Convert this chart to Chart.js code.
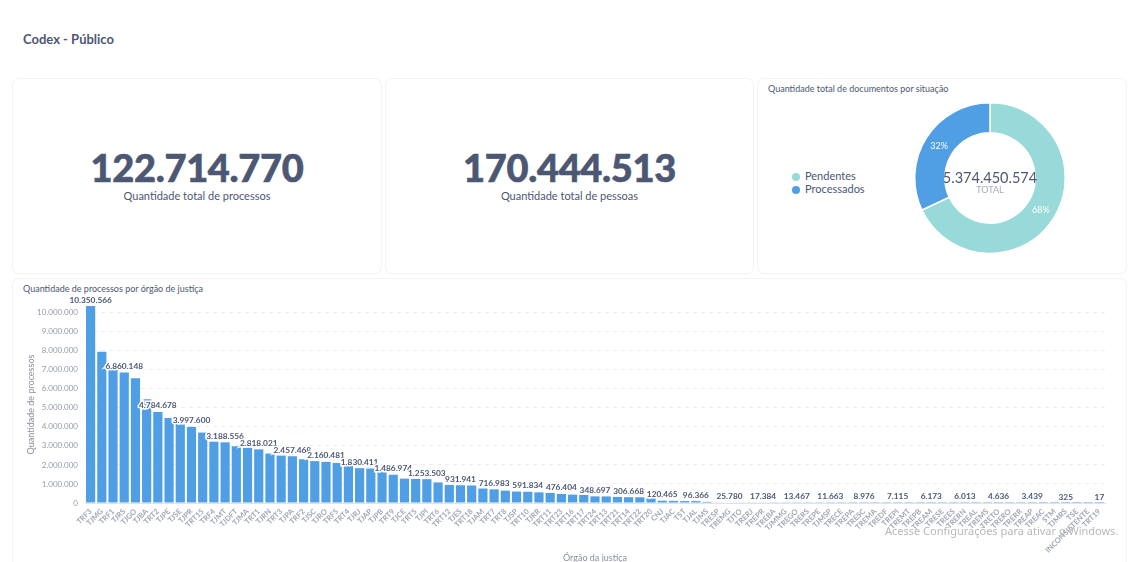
<!DOCTYPE html>
<html>
<head>
<meta charset="utf-8">
<script src="https://cdn.jsdelivr.net/npm/chart.js@4.4.0/dist/chart.umd.min.js"></script>
<style>
  html, body { margin: 0; padding: 0; background: #fff; width: 1131px; height: 562px; overflow: hidden; font-family: Lato, "Noto Sans", sans-serif; color: #4c5773; }
  .abs { position: absolute; }
  .card { position: absolute; background: #fff; border-radius: 6px; box-shadow: 0 0 0 1px #f3f4f6, 0 1px 3px rgba(0,0,0,0.04); }
  .dash-title { left: 23px; top: 31px; font-size: 13px; font-weight: bold; }
  .big { width: 100%; text-align: center; font-weight: 900; font-size: 38px; letter-spacing: -0.3px; line-height: 1; -webkit-text-stroke: 0.6px #4c5773; }
  .sub { width: 100%; text-align: center; font-size: 11px; }
  .ctitle { font-size: 9px; white-space: nowrap; }
  .leg { font-size: 11px; white-space: nowrap; }
  .dot { display: inline-block; width: 8px; height: 8px; border-radius: 50%; margin-right: 5px; vertical-align: -0.5px; }
  .wm { left: 885px; top: 523px; font-size: 11px; color: rgba(160,160,160,0.75); white-space: nowrap; font-family: "Segoe UI", "Noto Sans", sans-serif; }
</style>
</head>
<body>
<div class="abs dash-title">Codex - Público</div>

<div class="card" style="left:13px;top:79px;width:368px;height:194px;">
  <div class="abs big" style="top:69px;">122.714.770</div>
  <div class="abs sub" style="top:110px;">Quantidade total de processos</div>
</div>
<div class="card" style="left:386px;top:79px;width:367px;height:194px;">
  <div class="abs big" style="top:69px;">170.444.513</div>
  <div class="abs sub" style="top:110px;">Quantidade total de pessoas</div>
</div>
<div class="card" style="left:758px;top:79px;width:368px;height:194px;">
  <div class="abs ctitle" style="left:10px;top:4px;">Quantidade total de documentos por situação</div>
  <div class="abs leg" id="legend" style="left:34px;top:90px;"></div>
</div>
<div class="card" style="left:13px;top:279px;width:1113px;height:300px;">
  <div class="abs ctitle" style="left:10px;top:4px;">Quantidade de processos por órgão de justiça</div>
</div>

<canvas id="donut" class="abs" style="left:914px;top:102px;width:152px;height:152px;"></canvas>
<canvas id="bars" class="abs" style="left:18px;top:294px;width:1100px;height:272px;"></canvas>

<div class="abs wm">Acesse Configurações para ativar o Windows.</div>

<script>
// dados do painel
const situacoes = ['Pendentes', 'Processados'];
const documentosPorSituacao = [3654626390, 1719824184];
const coresSituacao = ['#98D9D9', '#509EE3'];

const orgaos = [
  'TRF3', 'TJMG', 'TRF1', 'TJRS', 'TJGO', 'TJBA', 'TRT2', 'TJPE', 'TJSE', 'TJPR',
  'TRT15', 'TRF4', 'TJMT', 'TJDFT', 'TJMA', 'TRT1', 'TJRN', 'TRT3', 'TJPA', 'TRF2',
  'TJSC', 'TJRO', 'TRF5', 'TRT4', 'TJRJ', 'TJAP', 'TJPB', 'TRT9', 'TJCE', 'TRT5',
  'TJPI', 'TRT6', 'TRT12', 'TJES', 'TRT18', 'TJAM', 'TRT7', 'TRT8', 'TJSP', 'TRT10',
  'TJRR', 'TRT11', 'TRT23', 'TRT16', 'TRT17', 'TRT24', 'TRT13', 'TRT21', 'TRT14', 'TRT22',
  'TRT20', 'CNJ', 'TJAC', 'TST', 'TJAL', 'TJMS', 'TRESP', 'TREMG', 'TJTO', 'TRERJ',
  'TREPR', 'TREBA', 'TJMMG', 'TREGO', 'TRERS', 'TREPE', 'TJMSP', 'TRECE', 'TREPA', 'TRESC',
  'TREMA', 'TREDF', 'TREPI', 'TREMT', 'TREPB', 'TREAM', 'TRESE', 'TREES', 'TRERN', 'TREAL',
  'TREMS', 'TRETO', 'TRERO', 'TRERR', 'TREAP', 'TREAC', 'STM', 'TJMRS', 'TSE', 'INCONSISTENTE',
  'TRT19'
];
const processos = [
  10350566, 7950000, 6990000, 6860148, 6560000, 5450000, 4784678, 4470000, 4180000, 3997600,
  3700000, 3220000, 3188556, 2980000, 2900000, 2818021, 2600000, 2490000, 2457468, 2300000,
  2200000, 2160481, 2100000, 2050000, 1830411, 1810000, 1700000, 1486974, 1280000, 1265000,
  1253503, 1080000, 950000, 931941, 920000, 760000, 716983, 650000, 600000, 591834,
  560000, 530000, 476404, 440000, 420000, 348697, 345000, 320000, 306668, 300000,
  290000, 120465, 115000, 100000, 96366, 60000, 30000, 25780, 20000, 18000,
  17384, 15000, 14000, 13467, 12500, 12000, 11663, 10500, 9500, 8976,
  8000, 7500, 7115, 6800, 6400, 6173, 6100, 6050, 6013, 5500,
  5000, 4636, 4200, 3800, 3439, 3000, 1500, 325, 100, 40,
  17
];
const yTicks = [0, 1000000, 2000000, 3000000, 4000000, 5000000, 6000000, 7000000, 8000000, 9000000, 10000000];

function fmt(n) {
  return String(Math.round(n)).replace(/\B(?=(\d{3})+(?!\d))/g, '.');
}

const legend = document.getElementById('legend');
situacoes.forEach((s, i) => {
  const d = document.createElement('div');
  d.style.height = '13px';
  d.innerHTML = '<span class="dot" style="background:' + coresSituacao[i] + '"></span>' + s;
  legend.appendChild(d);
});

// rótulos de porcentagem e total no centro da rosca
const donutLabels = {
  id: 'donutLabels',
  afterDatasetsDraw(chart) {
    const ctx = chart.ctx;
    const meta = chart.getDatasetMeta(0);
    const data = chart.data.datasets[0].data;
    const total = data.reduce((a, b) => a + b, 0);
    ctx.save();
    ctx.textAlign = 'center';
    ctx.textBaseline = 'middle';
    ctx.fillStyle = '#fff';
    ctx.font = '9px Lato';
    meta.data.forEach((arc, i) => {
      const p = arc.tooltipPosition();
      ctx.fillText(Math.round(data[i] / total * 100) + '%', p.x, p.y);
    });
    const cx = (chart.chartArea.left + chart.chartArea.right) / 2;
    const cy = (chart.chartArea.top + chart.chartArea.bottom) / 2;
    ctx.fillStyle = '#4c5773';
    ctx.font = '14.5px Lato';
    ctx.fillText(fmt(total), cx, cy);
    ctx.fillStyle = '#a5aab8';
    ctx.font = '9px Lato';
    ctx.fillText('TOTAL', cx, cy + 12);
    ctx.restore();
  }
};

new Chart(document.getElementById('donut'), {
  type: 'doughnut',
  data: {
    labels: situacoes,
    datasets: [{ data: documentosPorSituacao, backgroundColor: coresSituacao, borderColor: '#fff', borderWidth: 1.5 }]
  },
  options: {
    responsive: false,
    animation: false,
    cutout: '60%',
    layout: { padding: 0 },
    plugins: { legend: { display: false }, tooltip: { enabled: false } }
  },
  plugins: [donutLabels]
});

// valores em cima de algumas barras (a cada 3)
const barLabels = {
  id: 'barLabels',
  afterDatasetsDraw(chart) {
    const ctx = chart.ctx;
    const meta = chart.getDatasetMeta(0);
    const data = chart.data.datasets[0].data;
    ctx.save();
    ctx.font = 'bold 8.3px Lato';
    ctx.textAlign = 'center';
    ctx.textBaseline = 'bottom';
    ctx.lineWidth = 3;
    ctx.strokeStyle = '#fff';
    ctx.fillStyle = '#4c5773';
    meta.data.forEach((bar, i) => {
      if (i % 3 !== 0) return;
      const t = fmt(data[i]);
      ctx.strokeText(t, bar.x, bar.y - 2);
      ctx.fillText(t, bar.x, bar.y - 2);
    });
    ctx.restore();
  }
};

new Chart(document.getElementById('bars'), {
  type: 'bar',
  data: {
    labels: orgaos,
    datasets: [{
      data: processos,
      backgroundColor: '#509EE3',
      barPercentage: 0.82,
      categoryPercentage: 1
    }]
  },
  options: {
    responsive: false,
    animation: false,
    layout: { padding: { top: 12, right: 13, left: 8, bottom: 0 } },
    plugins: { legend: { display: false }, tooltip: { enabled: false } },
    scales: {
      x: {
        afterFit(scale) { scale.height = 63; },
        grid: { display: false, drawTicks: true, tickLength: 3 },
        border: { display: true, color: '#dfe3ea' },
        ticks: {
          autoSkip: false, minRotation: 45, maxRotation: 45, padding: 1,
          color: '#a0a7b7', font: { family: 'Lato', size: 7.5, weight: 'bold' }
        },
        title: { display: true, text: 'Órgão da justiça', color: '#8a90a0', font: { family: 'Lato', size: 9 }, padding: { top: 2, bottom: 3 } }
      },
      y: {
        min: 0,
        max: Math.max(...processos),
        afterFit(scale) { scale.width = 59; },
        afterBuildTicks(scale) { scale.ticks = yTicks.map(v => ({ value: v })); },
        grid: { color: '#eceef2', drawTicks: false },
        border: { display: false, dash: [4, 4] },
        ticks: {
          padding: 7,
          color: '#949aab',
          font: { family: 'Lato', size: 8 },
          callback: v => fmt(v)
        },
        title: { display: true, text: 'Quantidade de processos', color: '#8a90a0', font: { family: 'Lato', size: 9 }, padding: 0 }
      }
    }
  },
  plugins: [barLabels]
});
</script>
</body>
</html>
